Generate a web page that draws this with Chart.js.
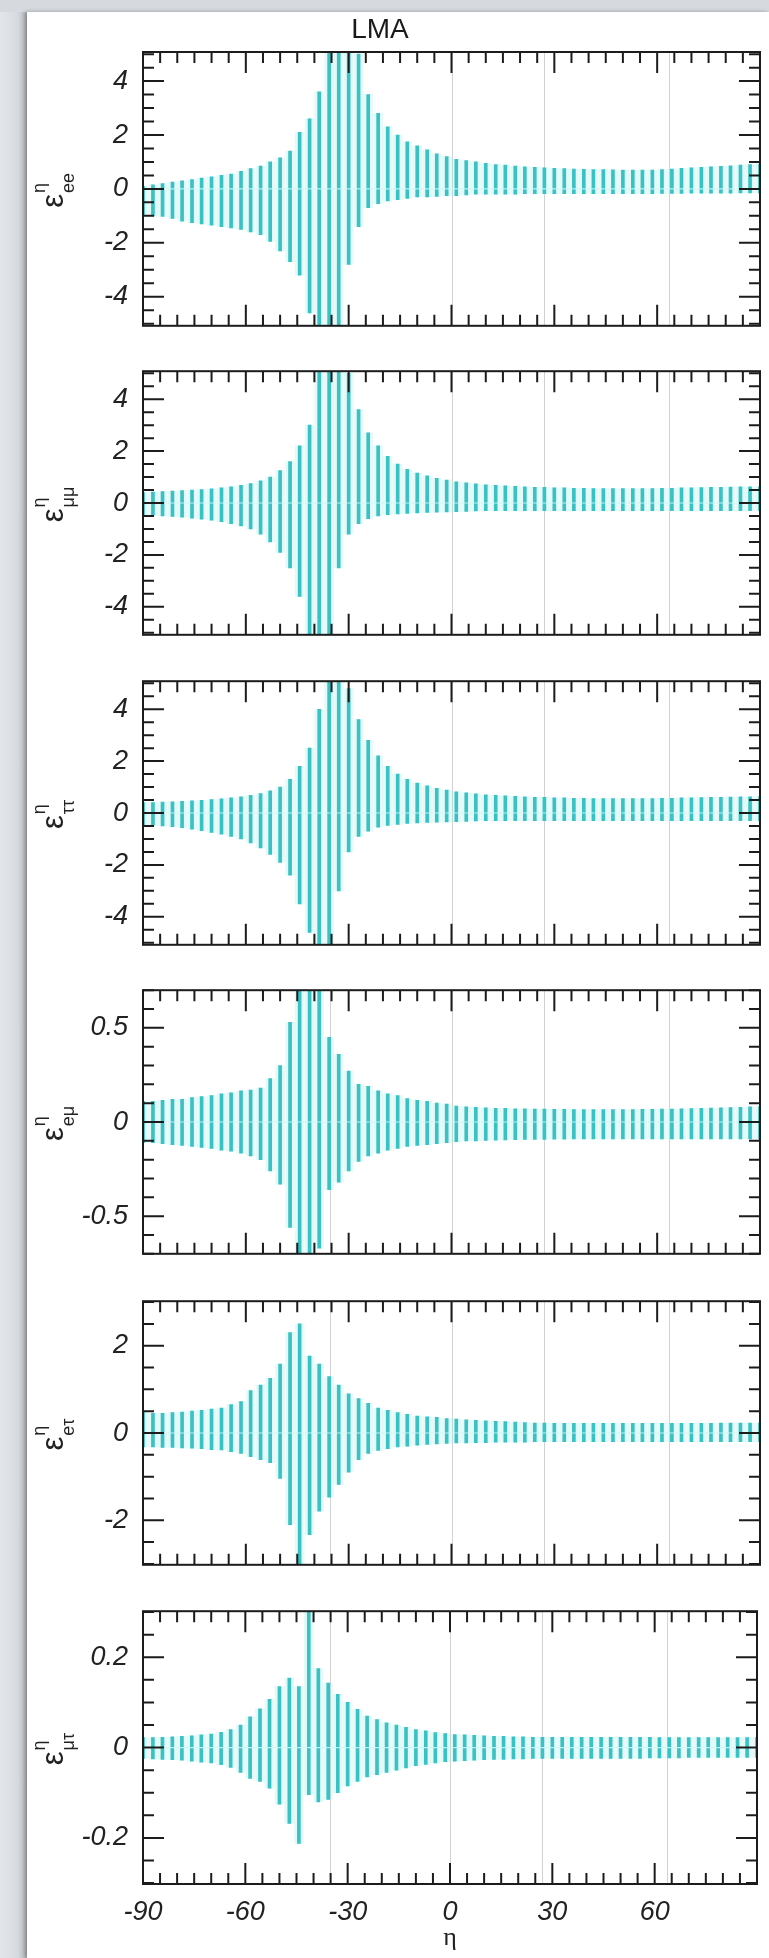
<!DOCTYPE html>
<html><head><meta charset="utf-8">
<script src="https://cdn.jsdelivr.net/npm/chart.js@4.4.1/dist/chart.umd.min.js"></script>
<style>
html,body{margin:0;padding:0;}
body{width:769px;height:1958px;position:relative;overflow:hidden;background:#d9dde1;}
#strip{position:absolute;left:0;top:0;width:27px;height:1958px;background:linear-gradient(to right,#e4e7ea 0%,#d6dadf 65%,#b4b9bf 100%);}
#topbar{position:absolute;left:0;top:0;width:769px;height:12px;background:#d6dade;}
#page{position:absolute;left:27px;top:12px;width:742px;height:1946px;background:#fff;box-shadow:-2px 0 4px rgba(0,0,0,0.3);}
canvas{position:absolute;left:0;}
</style></head><body>
<div id="strip"></div><div id="topbar"></div><div id="page"></div>
<canvas id="c1" width="769" height="345" style="top:12px;width:769px;height:345px"></canvas>
<canvas id="c2" width="769" height="326" style="top:340px;width:769px;height:326px"></canvas>
<canvas id="c3" width="769" height="326" style="top:650px;width:769px;height:326px"></canvas>
<canvas id="c4" width="769" height="326" style="top:959px;width:769px;height:326px"></canvas>
<canvas id="c5" width="769" height="326" style="top:1270px;width:769px;height:326px"></canvas>
<canvas id="c6" width="769" height="378" style="top:1580px;width:769px;height:378px"></canvas>
<script>
// ---------- data ----------
const eta = [-90.0,-87.1,-84.3,-81.4,-78.6,-75.7,-72.9,-70.0,-67.1,-64.3,
 -61.4,-58.6,-55.7,-52.9,-50.0,-47.1,-44.3,-41.4,-38.6,-35.7,
 -32.9,-30.0,-27.1,-24.3,-21.4,-18.6,-15.7,-12.9,-10.0,-7.1,
 -4.3,-1.4,1.4,4.3,7.1,10.0,12.9,15.7,18.6,21.4,
 24.3,27.1,30.0,32.9,35.7,38.6,41.4,44.3,47.1,50.0,
 52.9,55.7,58.6,61.4,64.3,67.1,70.0,72.9,75.7,78.6,
 81.4,84.3,87.1,90.0];

const eeHi = [0.10,0.15,0.20,0.25,0.30,0.35,0.40,0.45,0.50,0.55,
 0.65,0.75,0.85,1.00,1.15,1.40,2.10,2.60,3.60,5.50,
 5.50,5.50,5.00,3.50,2.80,2.30,2.00,1.75,1.60,1.45,
 1.30,1.20,1.10,1.05,1.00,0.95,0.90,0.88,0.85,0.82,
 0.80,0.78,0.76,0.75,0.74,0.73,0.72,0.72,0.71,0.70,
 0.70,0.70,0.70,0.72,0.74,0.76,0.78,0.80,0.82,0.84,
 0.86,0.88,0.90,0.92];
const eeLo = [-0.95,-1.00,-1.02,-1.10,-1.20,-1.25,-1.30,-1.35,-1.40,-1.45,
 -1.50,-1.60,-1.70,-1.95,-2.30,-2.70,-3.20,-4.60,-5.50,-5.50,
 -5.50,-2.80,-1.40,-0.70,-0.55,-0.45,-0.40,-0.35,-0.30,-0.30,
 -0.28,-0.25,-0.25,-0.22,-0.20,-0.20,-0.20,-0.20,-0.20,-0.18,
 -0.18,-0.18,-0.18,-0.18,-0.18,-0.18,-0.18,-0.18,-0.18,-0.18,
 -0.18,-0.18,-0.18,-0.17,-0.17,-0.17,-0.16,-0.16,-0.16,-0.16,
 -0.16,-0.15,-0.15,-0.15];

const mmHi = [0.40,0.42,0.44,0.46,0.48,0.50,0.52,0.55,0.58,0.62,
 0.68,0.75,0.85,1.00,1.25,1.60,2.20,3.00,5.50,5.50,
 5.50,5.00,3.60,2.70,2.20,1.80,1.50,1.30,1.15,1.05,
 0.95,0.88,0.82,0.78,0.74,0.70,0.68,0.66,0.64,0.62,
 0.60,0.60,0.58,0.58,0.57,0.57,0.56,0.56,0.56,0.56,
 0.56,0.56,0.56,0.57,0.57,0.58,0.58,0.59,0.60,0.60,
 0.61,0.62,0.62,0.63];
const mmLo = [-0.45,-0.47,-0.50,-0.52,-0.55,-0.58,-0.62,-0.66,-0.72,-0.80,
 -0.88,-1.00,-1.20,-1.50,-1.90,-2.50,-3.60,-5.50,-5.50,-5.50,
 -2.50,-1.20,-0.80,-0.60,-0.50,-0.45,-0.42,-0.40,-0.38,-0.36,
 -0.35,-0.34,-0.33,-0.32,-0.31,-0.30,-0.30,-0.30,-0.30,-0.30,
 -0.30,-0.30,-0.30,-0.30,-0.30,-0.30,-0.30,-0.30,-0.30,-0.30,
 -0.30,-0.30,-0.30,-0.30,-0.30,-0.30,-0.30,-0.30,-0.30,-0.30,
 -0.30,-0.30,-0.30,-0.30];

const ttHi = [0.40,0.40,0.42,0.43,0.45,0.47,0.49,0.52,0.55,0.58,
 0.62,0.68,0.75,0.85,1.00,1.30,1.80,2.50,4.00,5.50,
 5.50,4.80,3.60,2.80,2.20,1.80,1.50,1.30,1.15,1.05,
 0.95,0.88,0.82,0.78,0.74,0.70,0.68,0.66,0.64,0.62,
 0.60,0.60,0.58,0.58,0.57,0.57,0.56,0.56,0.56,0.56,
 0.56,0.56,0.56,0.57,0.57,0.58,0.58,0.59,0.60,0.60,
 0.61,0.62,0.62,0.63];
const ttLo = [-0.45,-0.47,-0.50,-0.53,-0.57,-0.62,-0.68,-0.75,-0.82,-0.90,
 -1.00,-1.15,-1.35,-1.60,-1.90,-2.40,-3.50,-4.60,-5.50,-5.50,
 -3.00,-1.50,-0.90,-0.70,-0.55,-0.48,-0.44,-0.40,-0.38,-0.36,
 -0.35,-0.34,-0.33,-0.32,-0.31,-0.30,-0.30,-0.30,-0.30,-0.30,
 -0.30,-0.30,-0.30,-0.30,-0.30,-0.30,-0.30,-0.30,-0.30,-0.30,
 -0.30,-0.30,-0.30,-0.30,-0.30,-0.30,-0.30,-0.30,-0.30,-0.30,
 -0.30,-0.30,-0.30,-0.30];

const emHi = [0.110,0.110,0.115,0.120,0.120,0.130,0.135,0.140,0.150,0.155,
 0.165,0.170,0.180,0.230,0.300,0.530,0.750,0.750,0.700,0.450,
 0.360,0.270,0.200,0.190,0.165,0.150,0.140,0.125,0.115,0.110,
 0.100,0.095,0.085,0.080,0.078,0.075,0.073,0.072,0.070,0.070,
 0.068,0.068,0.067,0.067,0.066,0.066,0.066,0.066,0.066,0.066,
 0.066,0.067,0.067,0.068,0.069,0.070,0.071,0.072,0.074,0.075,
 0.077,0.078,0.080,0.082];
const emLo = [-0.110,-0.110,-0.115,-0.120,-0.125,-0.130,-0.135,-0.140,-0.150,-0.155,
 -0.165,-0.180,-0.200,-0.260,-0.330,-0.560,-0.750,-0.750,-0.670,-0.360,
 -0.320,-0.260,-0.210,-0.180,-0.165,-0.150,-0.140,-0.130,-0.125,-0.120,
 -0.115,-0.110,-0.105,-0.100,-0.100,-0.098,-0.096,-0.095,-0.094,-0.093,
 -0.092,-0.092,-0.091,-0.091,-0.090,-0.090,-0.090,-0.090,-0.090,-0.090,
 -0.090,-0.090,-0.090,-0.090,-0.090,-0.090,-0.090,-0.090,-0.090,-0.090,
 -0.090,-0.090,-0.090,-0.090];

const etHi = [0.47,0.45,0.45,0.47,0.48,0.50,0.52,0.55,0.57,0.65,
 0.72,0.97,1.10,1.25,1.58,2.30,2.50,1.76,1.58,1.29,
 1.10,0.90,0.79,0.68,0.57,0.52,0.47,0.43,0.39,0.37,
 0.36,0.33,0.32,0.30,0.29,0.28,0.27,0.26,0.25,0.24,
 0.23,0.23,0.22,0.22,0.22,0.22,0.22,0.22,0.22,0.22,
 0.22,0.22,0.22,0.22,0.22,0.22,0.22,0.22,0.22,0.23,
 0.23,0.23,0.23,0.23];
const etLo = [-0.32,-0.32,-0.33,-0.33,-0.34,-0.35,-0.36,-0.38,-0.39,-0.43,
 -0.47,-0.54,-0.61,-0.68,-1.04,-2.10,-3.10,-2.33,-1.79,-1.47,
 -1.18,-0.90,-0.61,-0.47,-0.40,-0.36,-0.32,-0.30,-0.28,-0.26,
 -0.25,-0.24,-0.23,-0.23,-0.22,-0.22,-0.21,-0.21,-0.21,-0.21,
 -0.20,-0.20,-0.20,-0.20,-0.20,-0.20,-0.20,-0.20,-0.20,-0.20,
 -0.20,-0.20,-0.20,-0.20,-0.20,-0.20,-0.20,-0.20,-0.20,-0.20,
 -0.20,-0.20,-0.20,-0.20];

const mtHi = [0.022,0.022,0.023,0.024,0.025,0.026,0.028,0.030,0.034,0.040,
 0.050,0.068,0.086,0.107,0.135,0.154,0.135,0.310,0.175,0.143,
 0.118,0.100,0.085,0.070,0.062,0.055,0.050,0.045,0.040,0.037,
 0.033,0.031,0.029,0.028,0.027,0.026,0.025,0.025,0.024,0.024,
 0.023,0.023,0.023,0.023,0.023,0.023,0.023,0.023,0.023,0.023,
 0.023,0.023,0.023,0.022,0.022,0.022,0.022,0.022,0.022,0.022,
 0.022,0.022,0.022,0.022];
const mtLo = [-0.024,-0.025,-0.026,-0.027,-0.028,-0.030,-0.032,-0.034,-0.038,-0.044,
 -0.055,-0.068,-0.075,-0.090,-0.125,-0.168,-0.212,-0.104,-0.120,-0.115,
 -0.100,-0.085,-0.075,-0.065,-0.060,-0.055,-0.050,-0.045,-0.040,-0.037,
 -0.034,-0.031,-0.030,-0.029,-0.028,-0.027,-0.026,-0.026,-0.025,-0.025,
 -0.024,-0.024,-0.024,-0.024,-0.024,-0.024,-0.024,-0.024,-0.024,-0.024,
 -0.024,-0.024,-0.023,-0.023,-0.023,-0.023,-0.022,-0.022,-0.022,-0.022,
 -0.022,-0.022,-0.022,-0.022];

// tick values / labels
const xTickValues = [-90,-60,-30,0,30,60,90];
const xTickLabels = ['-90','-60','-30','0','30','60',''];
const bigTicks = [-4,-2,0,2,4];
const bigTickLabels = ['-4','-2','0','2','4'];
const emTicks = [-0.5,0,0.5];
const emTickLabels = ['-0.5','0','0.5'];
const etTicks = [-2,0,2];
const etTickLabels = ['-2','0','2'];
const mtTicks = [-0.2,0,0.2];
const mtTickLabels = ['-0.2','0','0.2'];
// light vertical reference lines
const refLines = [-35.3, 0, 27, 63.5];
const subscripts = ['ee','μμ','ττ','eμ','eτ','μτ'];

// ---------- drawing ----------
const TICKFONT = {family:'"Liberation Sans", Arial, sans-serif', size:27, style:'italic'};
const framePlugin = {
  id:'frame',
  beforeDatasetsDraw(chart){
    const {ctx, chartArea:a, scales:{x}} = chart;
    ctx.save();
    ctx.strokeStyle = '#d2d2d2'; ctx.lineWidth = 1;
    refLines.forEach(v=>{
      const px = Math.round(x.getPixelForValue(v))+0.5;
      ctx.beginPath(); ctx.moveTo(px,a.top); ctx.lineTo(px,a.bottom); ctx.stroke();
    });
    ctx.restore();
  },
  afterDatasetsDraw(chart, args, o){
    const {ctx, chartArea:a, scales:{x,y}} = chart;
    ctx.save();
    const y0 = y.getPixelForValue(0);
    ctx.strokeStyle='rgba(205,248,248,0.85)'; ctx.lineWidth=1.2;
    ctx.beginPath(); ctx.moveTo(a.left,y0); ctx.lineTo(a.right,y0); ctx.stroke();
    ctx.strokeStyle='#1c1c1c'; ctx.lineWidth=2;
    ctx.beginPath();
    for(let v=-90; v<=90; v+=5){
      const px=x.getPixelForValue(v); const L=(v%30===0)?21:11;
      ctx.moveTo(px,a.top); ctx.lineTo(px,a.top+L);
      ctx.moveTo(px,a.bottom); ctx.lineTo(px,a.bottom-L);
    }
    const n0=Math.ceil(o.min/o.minor-1e-6), n1=Math.floor(o.max/o.minor+1e-6);
    for(let n=n0;n<=n1;n++){
      const v=n*o.minor; const py=y.getPixelForValue(v);
      const major=o.majors.some(m=>Math.abs(m-v)<1e-6); const L=major?21:11;
      ctx.moveTo(a.left,py); ctx.lineTo(a.left+L,py);
      ctx.moveTo(a.right,py); ctx.lineTo(a.right-L,py);
    }
    ctx.stroke();
    ctx.lineWidth=2; ctx.strokeRect(a.left,a.top,a.right-a.left,a.bottom-a.top);
    ctx.restore();
  },
  afterDraw(chart, args, o){
    const {ctx, chartArea:a} = chart;
    const cy=(a.top+a.bottom)/2+2;
    ctx.save();
    ctx.translate(0,cy); ctx.rotate(-Math.PI/2);
    ctx.fillStyle='#222'; ctx.textAlign='left'; ctx.textBaseline='alphabetic';
    const F1='31px "Liberation Sans", Arial, sans-serif', F2='18px "Liberation Sans", Arial, sans-serif';
    ctx.font=F1; const we=ctx.measureText('ε').width;
    ctx.font=F2; const ws=Math.max(ctx.measureText(o.sub).width, ctx.measureText('η').width);
    const x0=-(we+ws)/2;
    ctx.font=F1; ctx.fillText('ε',x0,63);
    ctx.font=F2; ctx.fillText('η',x0+we+1,45); ctx.fillText(o.sub,x0+we+1,74);
    ctx.restore();
  }
};

const panels = [
  {id:'c1', hi:eeHi, lo:eeLo, min:-5.08, max:5.08, ticks:bigTicks, labels:bigTickLabels, minor:0.5, sub:subscripts[0], title:true},
  {id:'c2', hi:mmHi, lo:mmLo, min:-5.08, max:5.08, ticks:bigTicks, labels:bigTickLabels, minor:0.5, sub:subscripts[1]},
  {id:'c3', hi:ttHi, lo:ttLo, min:-5.08, max:5.08, ticks:bigTicks, labels:bigTickLabels, minor:0.5, sub:subscripts[2]},
  {id:'c4', hi:emHi, lo:emLo, min:-0.70, max:0.70, ticks:emTicks, labels:emTickLabels, minor:0.1, sub:subscripts[3]},
  {id:'c5', hi:etHi, lo:etLo, min:-3.02, max:3.02, ticks:etTicks, labels:etTickLabels, minor:0.5, sub:subscripts[4]},
  {id:'c6', hi:mtHi, lo:mtLo, min:-0.302, max:0.302, ticks:mtTicks, labels:mtTickLabels, minor:0.05, sub:subscripts[5], xaxis:true}
];

panels.forEach(p=>{
  const pts = eta.map((e,i)=>({x:e, y:[p.lo[i], p.hi[i]]}));
  new Chart(document.getElementById(p.id), {
    type:'bar',
    data:{datasets:[
      {data:pts, backgroundColor:'#38c2c4', borderWidth:0, barThickness:3, grouped:false, order:1},
      {data:pts, backgroundColor:'rgba(140,228,228,0.22)', borderWidth:0, barThickness:9, grouped:false, order:2}
    ]},
    options:{
      responsive:false, animation:false, devicePixelRatio:1,
      layout:{padding:{top:p.title?0:22, bottom:p.xaxis?0:22, left:0, right:9}},
      plugins:{
        legend:{display:false}, tooltip:{enabled:false},
        title:{display:!!p.title, text:'LMA', color:'#1a1a1a',
          font:{family:'"Liberation Sans", Arial, sans-serif', size:28, weight:'normal'}, padding:{top:1,bottom:5.4}},
        frame:{min:p.min, max:p.max, minor:p.minor, majors:p.ticks, sub:p.sub}
      },
      scales:{
        x:{type:'linear', min:-90, max:90, offset:false, display:!!p.xaxis,
           grid:{display:false, drawTicks:false}, border:{display:false},
           afterBuildTicks:s=>{s.ticks=xTickValues.map(v=>({value:v}));},
           afterFit:s=>{ if(p.xaxis) s.height=74; else s.height=0; },
           ticks:{font:TICKFONT, color:'#222', padding:12, maxRotation:0, autoSkip:false,
             callback:(v)=>{const k=xTickValues.indexOf(v); return k>=0?xTickLabels[k]:'';}},
           title:{display:true, text:'η', color:'#222', font:{family:'"Liberation Serif", serif', size:26}, padding:{top:0,bottom:4}}},
        y:{min:p.min, max:p.max, position:'left',
           grid:{display:false, drawTicks:false}, border:{display:false},
           afterBuildTicks:s=>{s.ticks=p.ticks.map(v=>({value:v}));},
           afterFit:s=>{s.width=143;},
           ticks:{font:TICKFONT, color:'#222', padding:15, autoSkip:false,
             callback:(v)=>{const k=p.ticks.findIndex(t=>Math.abs(t-v)<1e-9); return k>=0?p.labels[k]:'';}}}
      }
    },
    plugins:[framePlugin]
  });
});
</script>
</body></html>
